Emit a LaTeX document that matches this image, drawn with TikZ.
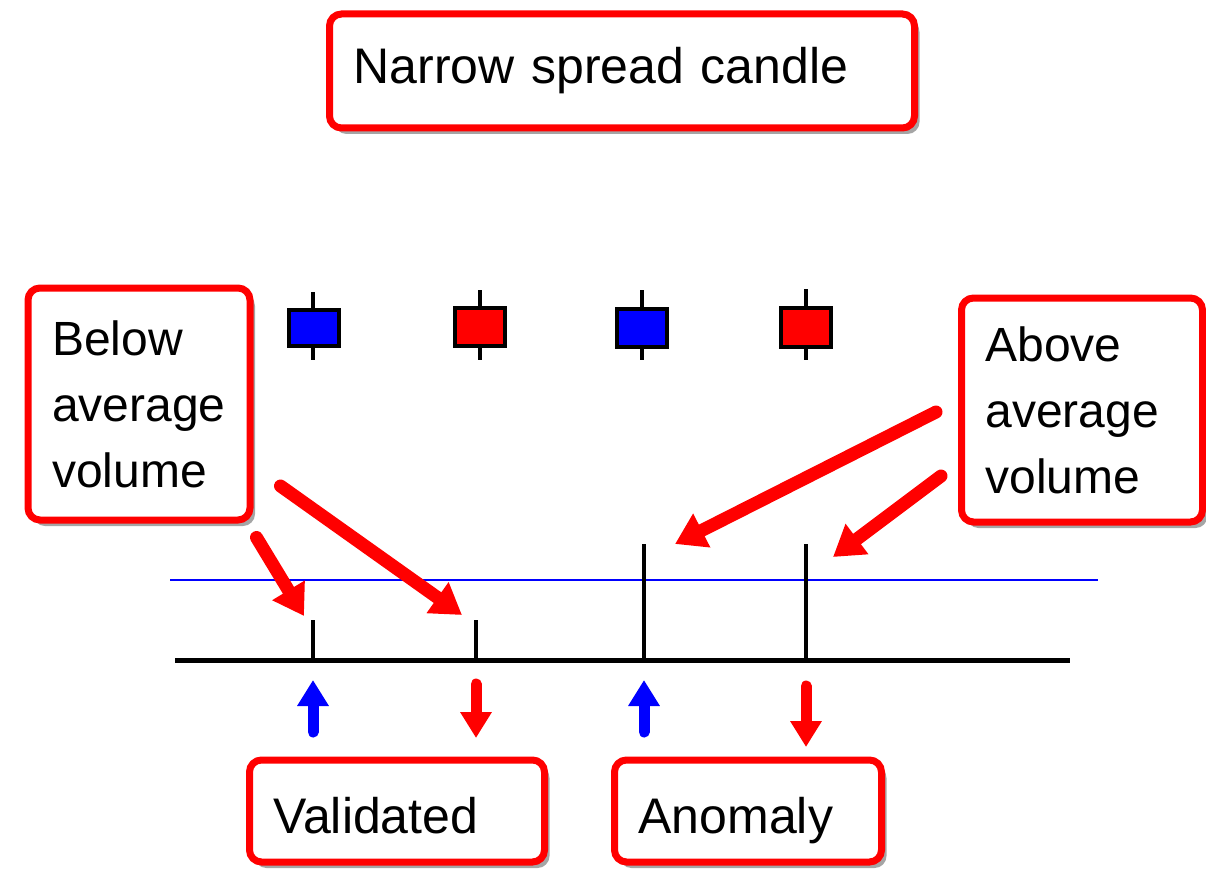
\documentclass[tikz,border=0pt]{standalone}
\usepackage{fontspec}
\setmainfont{Liberation Sans}
\usetikzlibrary{arrows.meta,shadows}

\tikzset{
  note/.style={draw=red, line width=7pt, rounded corners=12pt, fill=white,
    drop shadow={shadow xshift=5pt, shadow yshift=-6pt, fill=black!70},
    inner xsep=24pt, inner ysep=0pt, align=left,
    font=\fontsize{50}{66}\selectfont},
  bigarrow/.style={draw=red, line width=13pt, line cap=round,
    -{Triangle[width=36pt,length=30pt]}},
  smallarrow/.style={line width=11pt, line cap=round,
    -{Triangle[width=30pt,length=26pt]}},
  wick/.style={line width=4pt},
  body/.style={draw=black, line width=4pt},
  bar/.style={line width=3.5pt}
}

\begin{document}
\begin{tikzpicture}[x=1pt, y=-1pt]
  \useasboundingbox (0,0) rectangle (1206,869);

  % title
  \node[note, minimum height=114pt, text width=537pt] (title) at (622,71) {Narrow spread candle};

  % candles
  \draw[wick] (313,292) -- (313,360);
  \filldraw[body, fill=blue] (289,310) rectangle (339,346);
  \draw[wick] (480,290) -- (480,360);
  \filldraw[body, fill=red] (455,308) rectangle (505,346);
  \draw[wick] (642,290) -- (642,360);
  \filldraw[body, fill=blue] (617,309) rectangle (667,347);
  \draw[wick] (806,289) -- (806,360);
  \filldraw[body, fill=red] (781,308) rectangle (831,347);

  % side notes
  \node[note, minimum height=232pt, text width=174pt, inner xsep=24pt,
        font=\fontsize{48}{66}\selectfont] (below) at (139,404) {Below\\average\\volume};
  \node[note, minimum height=224pt, text width=193pt, inner xsep=24pt,
        font=\fontsize{48}{66}\selectfont] (above) at (1082,410) {Above\\average\\volume};

  % volume chart
  \draw[blue, line width=2.5pt] (170,580) -- (1098,580);
  \draw[line width=5pt] (175,660) -- (1070,660);
  \coordinate (v1) at (313,660);
  \coordinate (v2) at (476,660);
  \coordinate (v3) at (644,660);
  \coordinate (v4) at (806,660);
  \draw[bar] (v1) -- ++(0,-40);
  \draw[bar] (v2) -- ++(0,-40);
  \draw[bar] (v3) -- ++(0,-116);
  \draw[bar] (v4) -- ++(0,-116);

  % pointers to the bars
  \coordinate (t1) at (304,616);
  \coordinate (t2) at (462,615);
  \coordinate (t3) at (675,544);
  \coordinate (t4) at (833,557);
  \draw[bigarrow] ([shift={(3,14)}]below.south east) -- (t1);
  \draw[bigarrow] ([shift={(27,82)}]below.east) -- (t2);
  \draw[bigarrow] ([shift={(-22,2)}]above.west) -- (t3);
  \draw[bigarrow] ([shift={(-17,66)}]above.west) -- (t4);

  % direction of the candles
  \draw[smallarrow, blue] ([yshift=-72]v1) -- ([yshift=-20]v1);
  \draw[smallarrow, red] ([yshift=-24]v2) -- ([yshift=-78]v2);
  \draw[smallarrow, blue] ([yshift=-72]v3) -- ([yshift=-20]v3);
  \draw[smallarrow, red] ([yshift=-26]v4) -- ([yshift=-87]v4);

  % verdicts
  \node[note, minimum height=102pt, text width=247pt, text height=50pt, text depth=6pt] (valid) at (397,811) {Validated};
  \node[note, minimum height=102pt, text width=219pt, text height=50pt, text depth=6pt] (anomaly) at (748,811) {Anomaly};
\end{tikzpicture}
\end{document}
